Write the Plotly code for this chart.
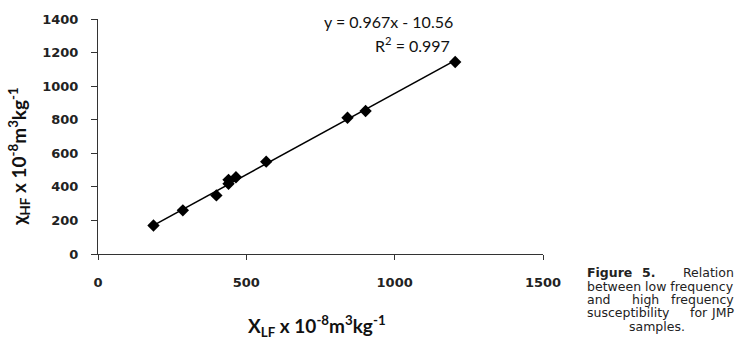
import plotly.graph_objects as go

# Data
x_lf = [187, 286, 399, 440, 440, 465, 567, 841, 902, 1204]
x_hf = [170, 260, 349, 418, 442, 457, 550, 812, 852, 1144]

# Trendline coefficients (from chart label)
slope = 0.967
intercept = -10.56
r2 = 0.997

x_ticks = [0, 500, 1000, 1500]
y_ticks = [0, 200, 400, 600, 800, 1000, 1200, 1400]

W, H = 741, 346
L, R, T, B = 98, 198, 17, 92
PW, PH = W - L - R, H - T - B


def px(x):
    return (x - L) / PW


def py(y):
    return (H - B - y) / PH


tx = [min(x_lf), max(x_lf)]
ty = [slope * v + intercept for v in tx]

fig = go.Figure()
fig.add_trace(go.Scatter(x=tx, y=ty, mode="lines",
                         line=dict(color="black", width=1.6),
                         hoverinfo="skip", showlegend=False))
fig.add_trace(go.Scatter(x=x_lf, y=x_hf, mode="markers",
                         marker=dict(symbol="diamond", size=9.5, color="black"),
                         showlegend=False))

tickfont = dict(family="DejaVu Sans", size=13, color="#222", weight="bold")
fig.update_xaxes(range=[0, 1500], tickvals=x_ticks, ticktext=[str(v) for v in x_ticks],
                 showgrid=False, zeroline=False, showline=True, linecolor="#333",
                 linewidth=1, ticks="outside", ticklen=5, tickcolor="#333",
                 tickfont=tickfont, ticklabelstandoff=11)
fig.update_yaxes(range=[0, 1400], tickvals=y_ticks, ticktext=[str(v) for v in y_ticks],
                 showgrid=False, zeroline=False, showline=True, linecolor="#333",
                 linewidth=1, ticks="outside", ticklen=6, tickcolor="#333",
                 tickfont=tickfont, ticklabelstandoff=10)

titlefont = dict(family="Lato", size=19, color="#111")
eqfont = dict(family="Lato", size=16, color="#111")
capfont = dict(family="DejaVu Sans", size=12.5, color="#222")

ann = []
ann.append(dict(text="<b>X<sub>LF</sub> x 10<sup>-8</sup>m<sup>3</sup>kg<sup>-1</sup></b>",
                xref="paper", yref="paper", x=px(317), y=py(327),
                xanchor="center", yanchor="middle", showarrow=False, font=titlefont))
ann.append(dict(text="<b>χ<sub>HF</sub> x 10<sup>-8</sup>m<sup>3</sup>kg<sup>-1</sup></b>",
                xref="paper", yref="paper", x=px(19), y=py(156), textangle=-90,
                xanchor="center", yanchor="middle", showarrow=False, font=titlefont))
ann.append(dict(text=f"y = {slope}x - {abs(intercept)}",
                xref="paper", yref="paper", x=px(322), y=py(20),
                xanchor="left", yanchor="middle", showarrow=False, font=eqfont))
ann.append(dict(text=f"R<sup>2</sup> = {r2}",
                xref="paper", yref="paper", x=px(373), y=py(43),
                xanchor="left", yanchor="middle", showarrow=False, font=eqfont))

cl, cr = 585, 736
lines = [
    (273, [("<b>Figure</b>", cl, "left"), ("<b>5.</b>", 648, "center"), ("Relation", cr, "right")]),
    (286.5, [("between low frequency", cl, "left")]),
    (300, [("and", cl, "left"), ("high", 645, "center"), ("frequency", cr, "right")]),
    (313.5, [("susceptibility", cl, "left"), ("for", 699, "center"), ("JMP", cr, "right")]),
    (327, [("samples.", 657, "center")]),
]
for yy, words in lines:
    for t, xx, anc in words:
        ann.append(dict(text=t, xref="paper", yref="paper", x=px(xx), y=py(yy),
                        xanchor=anc, yanchor="middle", showarrow=False, font=capfont))

fig.update_layout(width=W, height=H, margin=dict(l=L, r=R, t=T, b=B),
                  plot_bgcolor="white", paper_bgcolor="white",
                  annotations=ann, showlegend=False)
fig.write_html("out.html", config={"displayModeBar": False},
               post_script="document.body.style.margin='0';document.body.style.overflow='hidden';")
